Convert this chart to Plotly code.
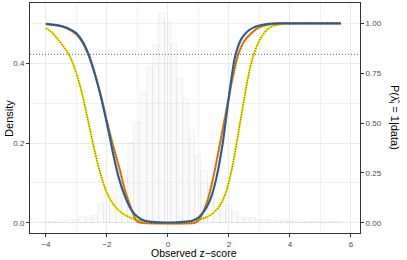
import plotly.graph_objects as go

# ---------------- data ----------------
bin_centers = [-4.0, -3.8, -3.6, -3.4, -3.2, -3.0, -2.8, -2.6, -2.4, -2.2, -2.0, -1.8, -1.6,
               -1.4, -1.2, -1.0, -0.8, -0.6, -0.4, -0.2, 0.0, 0.2, 0.4, 0.6, 0.8, 1.0, 1.2,
               1.4, 1.6, 1.8, 2.0, 2.2, 2.4, 2.6, 2.8, 3.0, 3.2, 3.4, 3.6, 3.8, 4.0, 4.2,
               4.4, 4.6, 4.8, 5.0, 5.2, 5.4, 5.6]
density = [0.002, 0.003, 0.003, 0.005, 0.006, 0.008, 0.014, 0.012, 0.018, 0.047, 0.070, 0.062, 0.090,
           0.130, 0.200, 0.250, 0.325, 0.387, 0.446, 0.525, 0.503, 0.448, 0.360, 0.310, 0.230, 0.170, 0.130,
           0.100, 0.060, 0.060, 0.045, 0.028, 0.015, 0.011, 0.011, 0.007, 0.007, 0.007, 0.004, 0.004, 0.004, 0.004,
           0.003, 0.002, 0.002, 0.002, 0.002, 0.002, 0.002]

blue_x = [-4.0, -3.6, -3.3, -3.0, -2.8, -2.6, -2.4, -2.2, -2.0, -1.8, -1.6, -1.4, -1.2, -1.0, -0.8,
          -0.6, -0.3, 0.0, 0.3, 0.6, 0.8, 1.0, 1.2, 1.4, 1.6, 1.8, 2.0, 2.2, 2.4, 2.6, 2.8, 3.0,
          3.3, 3.6, 4.5, 5.67]
blue_p = [0.998, 0.99, 0.977, 0.95, 0.91, 0.845, 0.75, 0.635, 0.50, 0.35, 0.22, 0.13, 0.065, 0.03, 0.012,
          0.005, 0.002, 0.001, 0.002, 0.005, 0.01, 0.025, 0.06, 0.12, 0.23, 0.40, 0.63, 0.83, 0.92, 0.958, 0.979, 0.99,
          0.998, 1.0, 1.0, 1.0]

orange_x = [-4.0, -3.6, -3.3, -3.0, -2.8, -2.6, -2.4, -2.2, -2.0, -1.8, -1.6, -1.4, -1.2, -1.1, -1.0,
            -0.9, 0.9, 1.0, 1.1, 1.3, 1.5, 1.7, 1.9, 2.1, 2.3, 2.5, 2.7, 2.9, 3.1, 3.4, 3.8, 5.67]
orange_p = [0.998, 0.99, 0.975, 0.945, 0.905, 0.84, 0.75, 0.64, 0.51, 0.39, 0.28, 0.16, 0.07, 0.03, 0.005,
            0.0, 0.0, 0.01, 0.035, 0.11, 0.235, 0.39, 0.55, 0.71, 0.84, 0.91, 0.945, 0.972, 0.986, 0.996, 1.0, 1.0]

yellow_x = [-4.0, -3.8, -3.6, -3.4, -3.2, -3.0, -2.8, -2.6, -2.4, -2.2, -2.0, -1.8, -1.6, -1.4, -1.2,
            -1.0, -0.7, -0.4, 0.0, 0.4, 0.7, 1.0, 1.3, 1.5, 1.7, 1.9, 2.1, 2.3, 2.5, 2.7, 2.9, 3.1,
            3.3, 3.5, 3.8, 4.2, 5.67]
yellow_p = [0.975, 0.955, 0.92, 0.88, 0.83, 0.75, 0.64, 0.50, 0.36, 0.24, 0.15, 0.095, 0.06, 0.038, 0.024,
            0.013, 0.005, 0.002, 0.001, 0.002, 0.006, 0.014, 0.03, 0.05, 0.085, 0.15, 0.27, 0.44, 0.62, 0.78, 0.88, 0.94,
            0.975, 0.99, 0.998, 1.0, 1.0]

threshold = 0.845

left_ticks = [0.0, 0.2, 0.4]
left_labels = ["0.0", "0.2", "0.4"]
right_ticks = [0.0, 0.25, 0.5, 0.75, 1.0]
right_labels = ["0.00", "0.25", "0.50", "0.75", "1.00"]
x_ticks = [-4, -2, 0, 2, 4, 6]
x_labels = ["\u22124", "\u22122", "0", "2", "4", "6"]

# ---------------- figure ----------------
FONT = "Liberation Sans, Arial, sans-serif"
fig = go.Figure()

fig.add_trace(go.Bar(x=bin_centers, y=density, width=0.2,
                     marker=dict(color="rgba(225,225,225,0.18)",
                                 line=dict(color="rgba(205,205,205,0.4)", width=0.6)),
                     yaxis="y", showlegend=False, hoverinfo="skip"))

curves = [(yellow_x, yellow_p, "#F5EA00", "#222222"),
          (orange_x, orange_p, "#EE8A12", "#5a3000"),
          (blue_x, blue_p, "#3469A3", "#1b2f4d")]
for cx, cy, col, dcol in curves:
    fig.add_trace(go.Scatter(x=cx, y=cy, mode="lines", yaxis="y2",
                             line=dict(color=col, width=2.2, shape="spline", smoothing=0.7),
                             showlegend=False, hoverinfo="skip"))
    fig.add_trace(go.Scatter(x=cx, y=cy, mode="lines", yaxis="y2",
                             line=dict(color=dcol, width=0.8, dash="1px,1.5px", shape="spline", smoothing=0.7),
                             showlegend=False, hoverinfo="skip"))

fig.add_shape(type="line", xref="paper", x0=0, x1=1, yref="y2", y0=threshold, y1=threshold,
              line=dict(color="#666666", width=1, dash="1px,2px"), layer="above")

axis_common = dict(ticks="outside", ticklen=3, tickcolor="#333333", tickwidth=1,
                   zeroline=False, automargin=False, tickfont=dict(size=8, color="#4D4D4D"))

fig.update_layout(
    width=407, height=260,
    margin=dict(l=30, r=47, t=3, b=27),
    paper_bgcolor="white", plot_bgcolor="white",
    bargap=0, barmode="overlay",
    font=dict(family=FONT, size=8, color="#4D4D4D"),
    xaxis=dict(range=[-4.52, 6.3], tickvals=x_ticks, ticktext=x_labels,
               showgrid=True, gridcolor="#EBEBEB", gridwidth=1,
               minor=dict(dtick=1, showgrid=True, gridcolor="#F2F2F2", gridwidth=0.6),
               showline=True, mirror=True, linecolor="#333333", linewidth=1, **axis_common),
    yaxis=dict(range=[-0.0258, 0.5513], tickvals=left_ticks, ticktext=left_labels,
               showgrid=True, gridcolor="#EBEBEB", gridwidth=1,
               minor=dict(dtick=0.1, showgrid=True, gridcolor="#F2F2F2", gridwidth=0.6),
               showline=True, mirror=True, linecolor="#333333", linewidth=1, **axis_common),
    yaxis2=dict(range=[-0.0517, 1.1026], overlaying="y", side="right",
                tickvals=right_ticks, ticktext=right_labels, showgrid=False,
                showline=True, linecolor="#333333", linewidth=1, **axis_common),
)

title_font = dict(size=11, color="black", family=FONT)
fig.add_annotation(xref="paper", yref="paper", x=0.498, y=-0.087, xanchor="center", yanchor="middle",
                   text="Observed z\u2212score", showarrow=False, font=dict(size=10.5, color="black", family=FONT))
fig.add_annotation(xref="paper", yref="paper", x=-0.064, y=0.5, xanchor="center", yanchor="middle",
                   text="Density", textangle=-90, showarrow=False, font=title_font)
fig.add_annotation(xref="paper", yref="paper", x=1.103, y=0.5, xanchor="center", yanchor="middle",
                   text="P(\u03bb\u0302<sub>i</sub> = 1|data)", textangle=90, showarrow=False,
                   font=title_font)

fig.write_html("out.html",
               config={"displayModeBar": False},
               post_script="document.body.style.margin='0';document.body.style.overflow='hidden';")
